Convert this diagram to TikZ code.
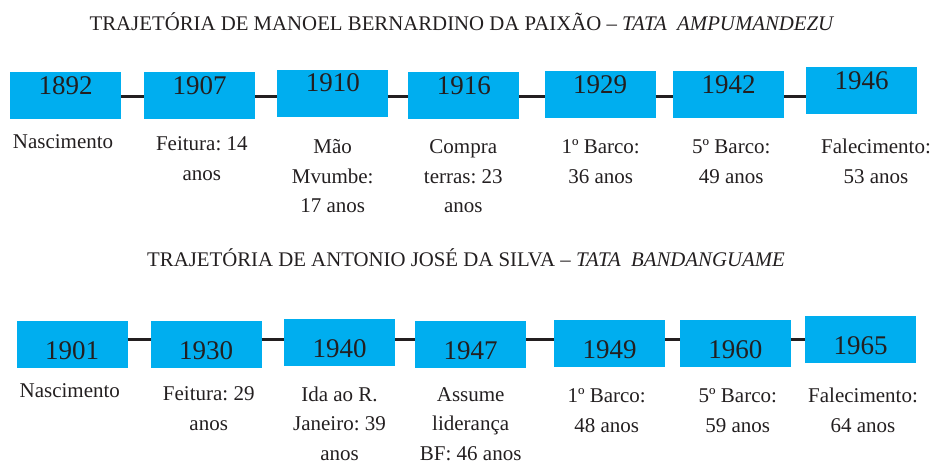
\documentclass[tikz,border=0pt]{standalone}
\usepackage{fontspec}
\setmainfont{Liberation Serif}
\definecolor{boxblue}{HTML}{00AEEF}
\definecolor{ink}{HTML}{231F20}
\newcommand\topstrut{\rule{0pt}{16pt}}
\begin{document}
\frenchspacing
\begin{tikzpicture}[x=1pt,y=-1pt,
  yearbox/.style={fill=boxblue, draw=none, minimum width=111pt, minimum height=47pt, inner sep=0pt, outer sep=0pt},
  yeartext/.style={anchor=base, inner sep=0pt, text=ink, font=\fontsize{27}{30}\selectfont},
  evtlabel/.style={anchor=north, align=center, inner sep=0pt, text=ink, font=\fontsize{21}{29.5}\selectfont},
  titletext/.style={anchor=base, inner sep=0pt, text=ink, font=\fontsize{20.8}{24}\selectfont},
  conn/.style={draw=ink, line width=3pt}]
\useasboundingbox (0,0) rectangle (933,463);

% ---------- first timeline ----------
\node[titletext] (t1) at (462,30) {TRAJETÓRIA DE MANOEL BERNARDINO DA PAIXÃO – \textit{TATA\ \ AMPUMANDEZU}};

\coordinate (topline) at (0,96);
\node[yearbox] (a1) at (65.5,95.5) {};
\node[yearbox] (a2) at (199.5,95.5) {};
\node[yearbox] (a3) at (332.8,93.3) {};
\node[yearbox] (a4) at (463.8,95.8) {};
\node[yearbox] (a5) at (600.2,94.7) {};
\node[yearbox] (a6) at (728.7,94.7) {};
\node[yearbox] (a7) at (861.5,90.7) {};

\foreach \i/\j in {1/2,2/3,3/4,4/5,5/6,6/7}
  \draw[conn] (a\i.east |- topline) -- (a\j.west |- topline);

\node[yeartext] (ya1) at ([yshift=1.5pt]a1.center) {1892};
\node[yeartext] (ya2) at ([yshift=1.5pt]a2.center) {1907};
\node[yeartext] (ya3) at ([yshift=1.5pt]a3.center) {1910};
\node[yeartext] (ya4) at ([yshift=1.5pt]a4.center) {1916};
\node[yeartext] (ya5) at ([yshift=1.5pt]a5.center) {1929};
\node[yeartext] (ya6) at ([yshift=1.5pt]a6.center) {1942};
\node[yeartext] (ya7) at ([yshift=1.5pt]a7.center) {1946};

% label nodes: y = first baseline - 16
\node[evtlabel] (la1) at (63,132) {\topstrut Nascimento};
\node[evtlabel] (la2) at (201.8,134.7) {\topstrut Feitura: 14\\anos};
\node[evtlabel] (la3) at (332.7,137.3) {\topstrut Mão\\Mvumbe:\\17 anos};
\node[evtlabel] (la4) at (463.3,137.3) {\topstrut Compra\\terras: 23\\anos};
\node[evtlabel] (la5) at (600.7,137.3) {\topstrut 1º Barco:\\36 anos};
\node[evtlabel] (la6) at (731.3,137.3) {\topstrut 5º Barco:\\49 anos};
\node[evtlabel] (la7) at (876,137.3) {\topstrut Falecimento:\\53 anos};

% ---------- second timeline ----------
\node[titletext] (t2) at (466,266.7) {TRAJETÓRIA DE ANTONIO JOSÉ DA SILVA – \textit{TATA\ \ BANDANGUAME}};

\coordinate (botline) at (0,339);
\node[yearbox] (b1) at (72.2,344.7) {};
\node[yearbox] (b2) at (206.2,344.7) {};
\node[yearbox] (b3) at (339.7,342.2) {};
\node[yearbox] (b4) at (470.5,344.7) {};
\node[yearbox] (b5) at (609.5,343.7) {};
\node[yearbox] (b6) at (735.3,343.7) {};
\node[yearbox] (b7) at (860.5,339.7) {};

\foreach \i/\j in {1/2,2/3,3/4,4/5,5/6,6/7}
  \draw[conn] (b\i.east |- botline) -- (b\j.west |- botline);

\node[yeartext] (yb1) at ([yshift=-15pt]b1.center) {1901};
\node[yeartext] (yb2) at ([yshift=-15pt]b2.center) {1930};
\node[yeartext] (yb3) at ([yshift=-15pt]b3.center) {1940};
\node[yeartext] (yb4) at ([yshift=-15pt]b4.center) {1947};
\node[yeartext] (yb5) at ([yshift=-15pt]b5.center) {1949};
\node[yeartext] (yb6) at ([yshift=-15pt]b6.center) {1960};
\node[yeartext] (yb7) at ([yshift=-15pt]b7.center) {1965};

\node[evtlabel] (lb1) at (69.8,381.3) {\topstrut Nascimento};
\node[evtlabel] (lb2) at (208.7,384.7) {\topstrut Feitura: 29\\anos};
\node[evtlabel] (lb3) at (339.5,385) {\topstrut Ida ao R.\\Janeiro: 39\\anos};
\node[evtlabel] (lb4) at (470.7,385) {\topstrut Assume\\liderança\\BF: 46 anos};
\node[evtlabel] (lb5) at (606.7,386.3) {\topstrut 1º Barco:\\48 anos};
\node[evtlabel] (lb6) at (737.8,386.3) {\topstrut 5º Barco:\\59 anos};
\node[evtlabel] (lb7) at (863,386.3) {\topstrut Falecimento:\\64 anos};
\end{tikzpicture}
\end{document}
